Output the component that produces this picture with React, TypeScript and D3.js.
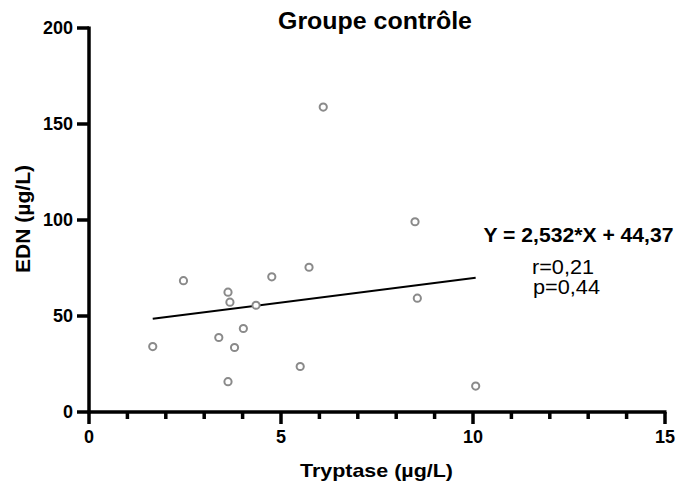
import React from "react";
import * as d3 from "d3";

const tryptase = [1.66, 2.46, 3.38, 3.62, 3.62, 3.67, 3.79, 4.02, 4.35, 4.76, 5.5, 5.73, 6.1, 8.49, 8.55, 10.07];
const edn = [34.1, 68.4, 38.8, 62.4, 15.8, 57.2, 33.6, 43.5, 55.6, 70.4, 23.7, 75.4, 158.8, 99.1, 59.3, 13.5];
const slope = 2.532;
const intercept = 44.37;
const xMajorTicks = [0, 5, 10, 15];
const xMinorTicks = [1, 2, 3, 4, 6, 7, 8, 9, 11, 12, 13, 14];
const yTicks = [0, 50, 100, 150, 200];
const titleText = "Groupe contrôle";
const xLabel = "Tryptase (µg/L)";
const yLabel = "EDN (µg/L)";
const eqText = "Y = 2,532*X + 44,37";
const rText = "r=0,21";
const pText = "p=0,44";

const W = 677;
const H = 488;
const FONT = "'Liberation Sans', Arial, Helvetica, sans-serif";

export default function App() {
  const x = d3.scaleLinear().domain([0, 15]).range([89, 665]);
  const y = d3.scaleLinear().domain([0, 200]).range([412, 28]);
  const pts = tryptase.map((t, i) => ({ t, e: edn[i] }));
  const xmin = d3.min(tryptase) as number;
  const xmax = d3.max(tryptase) as number;
  const line = d3
    .line<number>()
    .x((d) => x(d))
    .y((d) => y(slope * d + intercept));

  return (
    <svg
      width={W}
      height={H}
      style={{ position: "absolute", left: 0, top: 0, background: "#fff" }}
      fontFamily={FONT}
    >
      {/* title */}
      <text x={375} y={29} textAnchor="middle" fontSize={23} fontWeight="bold" fill="#000" textLength={194} lengthAdjust="spacingAndGlyphs">
        {titleText}
      </text>

      {/* y axis */}
      <line x1={x(0)} x2={x(0)} y1={y(200) - 1.5} y2={y(0) + 1.5} stroke="#000" strokeWidth={3.5} />
      {yTicks.map((v) => (
        <g key={"yt" + v}>
          <line x1={x(0) - 12} x2={x(0)} y1={y(v)} y2={y(v)} stroke="#000" strokeWidth={3.5} />
          <text x={73} y={y(v)} dy="0.36em" textAnchor="end" fontSize={18} fontWeight="bold" fill="#000">
            {v}
          </text>
        </g>
      ))}

      {/* x axis */}
      <line x1={x(0) - 1.5} x2={x(15) + 1.5} y1={y(0)} y2={y(0)} stroke="#000" strokeWidth={3.5} />
      {xMajorTicks.map((v) => (
        <g key={"xt" + v}>
          <line x1={x(v)} x2={x(v)} y1={y(0)} y2={y(0) + 12} stroke="#000" strokeWidth={3.5} />
          <text x={x(v)} y={443} textAnchor="middle" fontSize={18} fontWeight="bold" fill="#000">
            {v}
          </text>
        </g>
      ))}
      {xMinorTicks.map((v) => (
        <line key={"xm" + v} x1={x(v)} x2={x(v)} y1={y(0)} y2={y(0) + 7} stroke="#000" strokeWidth={3.5} />
      ))}

      {/* axis labels */}
      <text x={376.5} y={477} textAnchor="middle" fontSize={19} fontWeight="bold" fill="#000" textLength={153} lengthAdjust="spacingAndGlyphs">
        {xLabel}
      </text>
      <text
        transform={`translate(30,219) rotate(-90)`}
        textAnchor="middle"
        fontSize={20}
        fontWeight="bold"
        fill="#000"
        textLength={108}
        lengthAdjust="spacingAndGlyphs"
      >
        {yLabel}
      </text>

      {/* regression line */}
      <path d={line([xmin, xmax]) || ""} stroke="#000" strokeWidth={2} fill="none" />

      {/* points */}
      {pts.map((p, i) => (
        <circle key={"p" + i} cx={x(p.t)} cy={y(p.e)} r={3.6} fill="#fff" stroke="#8a8a8a" strokeWidth={2} />
      ))}

      {/* annotations */}
      <text x={483.5} y={242} fontSize={20} fontWeight="bold" fill="#000" textLength={190} lengthAdjust="spacingAndGlyphs">
        {eqText}
      </text>
      <text x={532} y={273.5} fontSize={20} fill="#000" textLength={62} lengthAdjust="spacingAndGlyphs">
        {rText}
      </text>
      <text x={533} y={293.5} fontSize={20} fill="#000" textLength={67} lengthAdjust="spacingAndGlyphs">
        {pText}
      </text>
    </svg>
  );
}
